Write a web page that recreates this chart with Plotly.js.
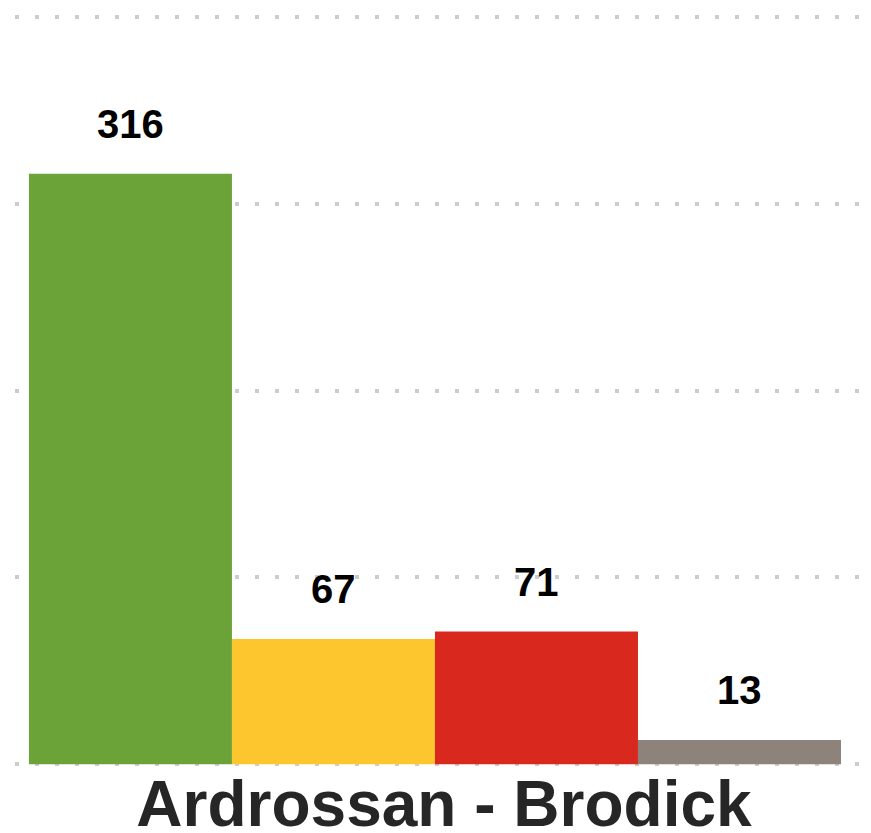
<!DOCTYPE html>
<html>
<head>
<meta charset="utf-8">
<script src="https://cdn.plot.ly/plotly-3.0.1.min.js"></script>
<style>html,body{margin:0;padding:0;background:#fff;}#chart{width:871px;height:833px;}</style>
</head>
<body>
<div id="chart"></div>
<script>
const categories = ["Ardrossan - Brodick"];
const seriesNames = ["Series A", "Series B", "Series C", "Series D"];
const seriesValues = [316, 67, 71, 13];
const seriesColors = ["#6BA339", "#FEC62E", "#D9291E", "#8D837A"];
const yTicks = [0, 100, 200, 300, 400];

const bargap = 0.039;
const n = seriesValues.length;
const w = (1 - bargap) / n;

const traces = seriesValues.map((v, i) => ({
  type: "bar",
  name: seriesNames[i],
  x: categories,
  y: [v],
  marker: { color: seriesColors[i], line: { width: 0 } },
  hoverinfo: "name+y"
}));

const annotations = seriesValues.map((v, i) => ({
  xref: "x", yref: "y",
  x: (i - (n - 1) / 2) * w,
  y: v,
  text: "<b>" + String(v) + "</b>",
  showarrow: false,
  yanchor: "middle",
  yshift: 50,
  font: { family: "Liberation Sans, Arial, sans-serif", size: 40, color: "#000" }
}));

const layout = {
  width: 871,
  height: 833,
  margin: { l: 15, r: 11, t: 14, b: 66, pad: 0 },
  paper_bgcolor: "#fff",
  plot_bgcolor: "#fff",
  showlegend: false,
  barmode: "group",
  bargap: bargap,
  bargroupgap: 0,
  xaxis: {
    type: "category",
    range: [-0.497, 0.503],
    showgrid: false,
    showline: false,
    zeroline: false,
    ticks: "",
    ticklabelshift: 9,
    ticklabelstandoff: -6,
    tickfont: { family: "Liberation Sans, Arial, sans-serif", size: 64, color: "#262626", weight: "bold" }
  },
  yaxis: {
    range: [-1.5, 401.5],
    tickvals: yTicks,
    showticklabels: false,
    showgrid: true,
    gridcolor: "#cccccc",
    gridwidth: 4,
    griddash: "4px,16px",
    zeroline: false,
    showline: false,
    ticks: ""
  },
  annotations: annotations
};

Plotly.newPlot("chart", traces, layout, { displayModeBar: false, staticPlot: true });
</script>
</body>
</html>
